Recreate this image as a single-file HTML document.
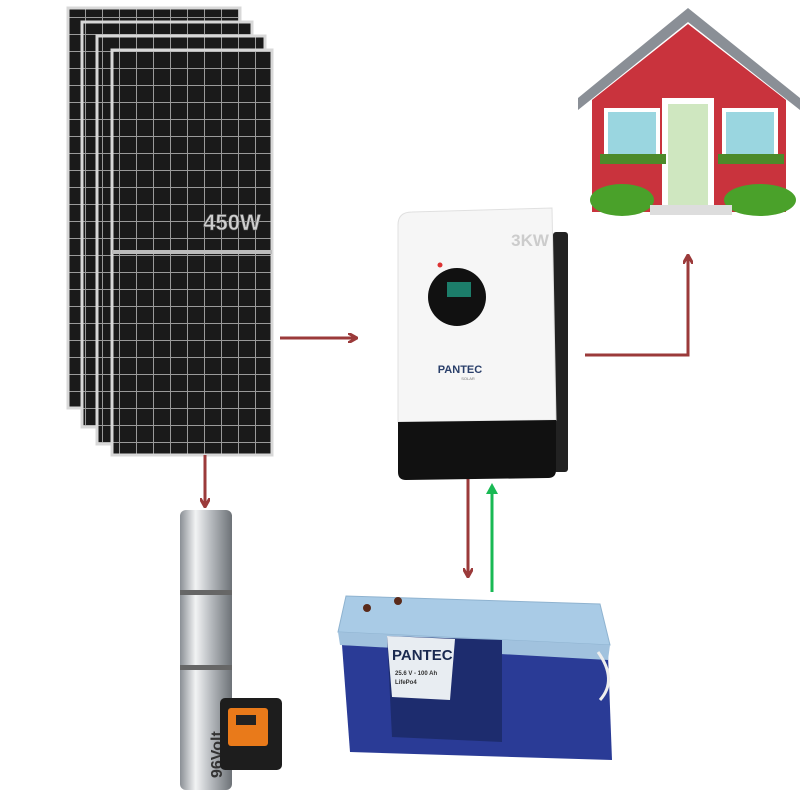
<!DOCTYPE html>
<html><head><meta charset="utf-8"><style>
html,body{margin:0;padding:0;background:#fff;width:800px;height:800px;overflow:hidden}
svg{display:block}
</style></head><body>
<svg width="800" height="800" viewBox="0 0 800 800" xmlns="http://www.w3.org/2000/svg">
<defs>
<pattern id="cells" x="0" y="0" width="17" height="17" patternUnits="userSpaceOnUse">
<rect width="17" height="17" fill="#1a1a1a"/>
<rect x="0" y="0" width="17" height="1" fill="#9a9a9a"/>
<rect x="0" y="0" width="1" height="17" fill="#9a9a9a"/>
</pattern>
<linearGradient id="steel" x1="0" x2="1">
<stop offset="0" stop-color="#8a8f95"/><stop offset="0.3" stop-color="#f2f3f4"/><stop offset="0.6" stop-color="#b5b9bd"/><stop offset="1" stop-color="#6d7277"/>
</linearGradient>
<marker id="ab" markerWidth="10" markerHeight="10" refX="8" refY="5" orient="auto" markerUnits="userSpaceOnUse"><path d="M0,0 L9,5 L0,10" fill="none" stroke="#9b3a3a" stroke-width="3"/></marker>
<marker id="ag" markerWidth="12" markerHeight="12" refX="6" refY="6" orient="auto" markerUnits="userSpaceOnUse"><path d="M0,0 L11,6 L0,12 Z" fill="#19b954"/></marker>
</defs>

<g stroke="#d8d8d8" stroke-width="3">
<rect x="68" y="8" width="172" height="400" fill="url(#cells)"/>
<rect x="82" y="22" width="170" height="405" fill="url(#cells)"/>
<rect x="97" y="36" width="168" height="408" fill="url(#cells)"/>
<rect x="112" y="50" width="160" height="405" fill="url(#cells)"/>
</g>
<rect x="112" y="250" width="160" height="4" fill="#bbb"/>
<text x="232" y="230" font-family="Liberation Sans, sans-serif" font-weight="bold" font-size="22" fill="#cfcfcf" text-anchor="middle" stroke="#555" stroke-width="0.6">450W</text>

<line x1="280" y1="338" x2="356" y2="338" stroke="#9b3a3a" stroke-width="3" marker-end="url(#ab)"/>
<polyline points="585,355 688,355 688,256" fill="none" stroke="#9b3a3a" stroke-width="3" marker-end="url(#ab)"/>
<line x1="205" y1="455" x2="205" y2="506" stroke="#9b3a3a" stroke-width="3" marker-end="url(#ab)"/>
<line x1="468" y1="478" x2="468" y2="576" stroke="#9b3a3a" stroke-width="3" marker-end="url(#ab)"/>
<line x1="492" y1="592" x2="492" y2="488" stroke="#19b954" stroke-width="3" marker-end="url(#ag)"/>

<rect x="553" y="232" width="15" height="240" fill="#222" rx="3"/>
<path d="M398 225 Q398 212 412 212 L552 208 L556 420 L398 422 Z" fill="#f6f6f6" stroke="#e0e0e0"/>
<path d="M398 422 L556 420 L556 470 Q556 478 548 478 L406 480 Q398 480 398 472 Z" fill="#111"/>
<circle cx="457" cy="297" r="29" fill="#111"/>
<rect x="447" y="282" width="24" height="15" fill="#1c7d6a"/>
<circle cx="440" cy="265" r="2.5" fill="#d33"/>
<text x="530" y="246" font-family="Liberation Sans, sans-serif" font-weight="bold" font-size="17" fill="#ccc" text-anchor="middle">3KW</text>
<text x="460" y="373" font-family="Liberation Sans, sans-serif" font-weight="bold" font-size="11" fill="#2a3f6a" text-anchor="middle">PANTEC</text>
<text x="468" y="380" font-family="Liberation Sans, sans-serif" font-size="4" fill="#777" text-anchor="middle">SOLAR</text>

<polygon points="578,98 688,8 800,98 800,110 688,22 578,110" fill="#8a8f96"/>
<polygon points="592,100 688,24 786,100 786,212 592,212" fill="#c9333d"/>
<rect x="606" y="110" width="52" height="50" fill="#9ad6e0" stroke="#fff" stroke-width="4"/>
<rect x="724" y="110" width="52" height="50" fill="#9ad6e0" stroke="#fff" stroke-width="4"/>
<rect x="662" y="98" width="52" height="112" fill="#fff"/>
<rect x="668" y="104" width="40" height="104" fill="#cfe7c0"/>
<rect x="600" y="154" width="66" height="10" fill="#4c8a2a"/>
<rect x="718" y="154" width="66" height="10" fill="#4c8a2a"/>
<ellipse cx="622" cy="200" rx="32" ry="16" fill="#4aa12a"/>
<ellipse cx="760" cy="200" rx="36" ry="16" fill="#4aa12a"/>
<rect x="650" y="205" width="82" height="10" fill="#ddd"/>

<rect x="180" y="510" width="52" height="280" fill="url(#steel)" rx="6"/>
<rect x="180" y="590" width="52" height="5" fill="#666"/>
<rect x="180" y="665" width="52" height="5" fill="#666"/>
<text transform="translate(222,778) rotate(-90)" font-family="Liberation Sans, sans-serif" font-weight="bold" font-size="16" fill="#333">96Volt</text>
<rect x="220" y="698" width="62" height="72" fill="#1d1d1d" rx="5"/>
<rect x="228" y="708" width="40" height="38" fill="#e97a1a" rx="3"/>
<rect x="236" y="715" width="20" height="10" fill="#222"/>

<polygon points="338,632 346,596 600,604 610,645" fill="#a9cbe6" stroke="#8fb3d0"/>
<polygon points="342,645 608,655 612,760 350,752" fill="#2a3b96"/>
<polygon points="338,632 610,645 608,660 340,645" fill="#a1c2de"/>
<polygon points="387,636 502,640 502,742 392,737" fill="#1d2c6e"/>
<polygon points="387,636 455,639 450,700 392,697" fill="#e8edf2"/>
<text x="392" y="660" font-family="Liberation Sans, sans-serif" font-weight="bold" font-size="15" fill="#1a2a50">PANTEC</text>
<text x="395" y="675" font-family="Liberation Sans, sans-serif" font-weight="bold" font-size="6" fill="#333">25.6 V - 100 Ah</text>
<text x="395" y="684" font-family="Liberation Sans, sans-serif" font-weight="bold" font-size="6" fill="#333">LifePo4</text>
<path d="M598 652 Q618 680 600 700" fill="none" stroke="#eee" stroke-width="3"/>
<circle cx="398" cy="601" r="4" fill="#5a2a1a"/>
<circle cx="367" cy="608" r="4" fill="#5a2a1a"/>
</svg>
</body></html>
